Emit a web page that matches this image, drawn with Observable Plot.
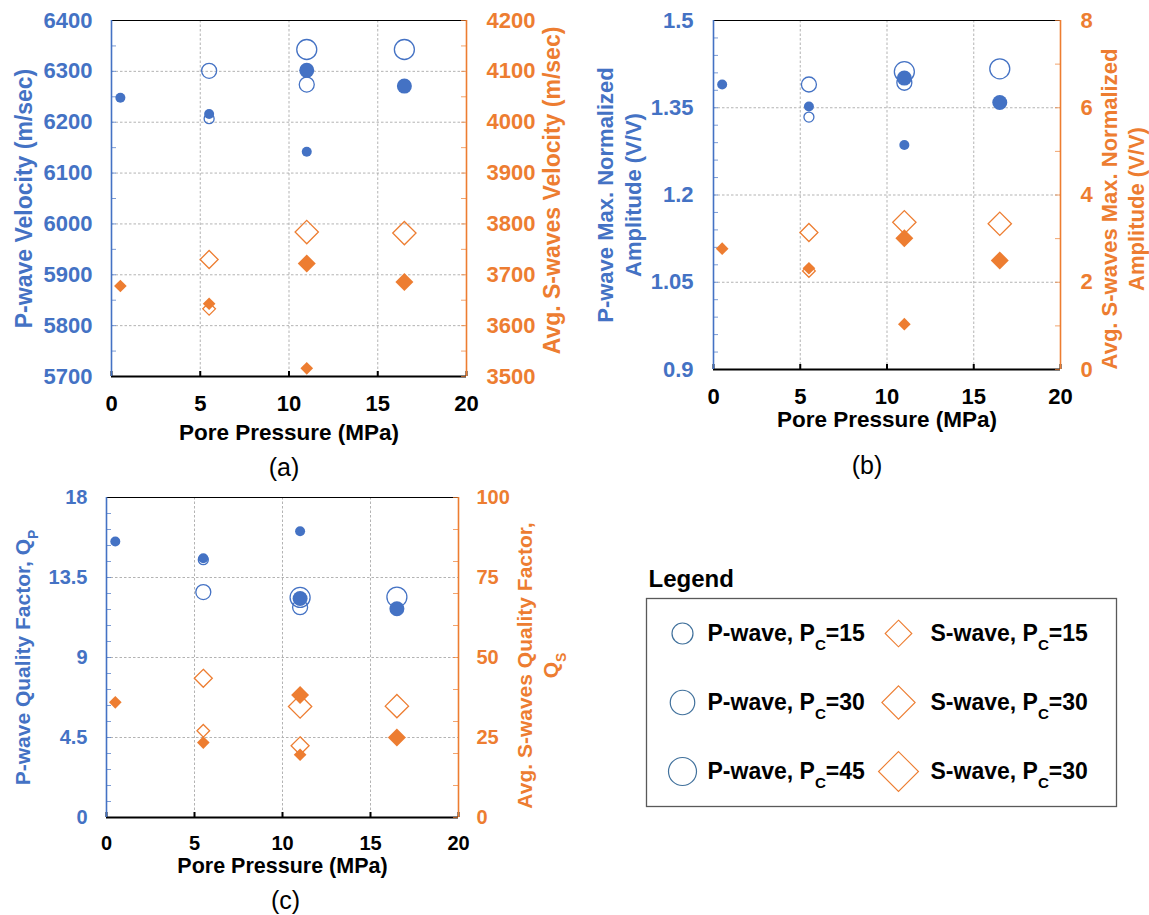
<!DOCTYPE html>
<html><head><meta charset="utf-8">
<script src="https://cdn.jsdelivr.net/npm/d3@7"></script>
<script src="https://cdn.jsdelivr.net/npm/@observablehq/plot@0.6"></script>
<style>
body{margin:0;background:#fff;}
#root{position:relative;width:1149px;height:915px;overflow:hidden;background:#fff;}
.layer{position:absolute;}
.layer svg{display:block;overflow:visible;}
</style></head><body><div id="root"></div>
<script>
const BLUE = "#4472C4", ORANGE = "#ED7D31";
const FONT = '"Liberation Sans", Arial, Helvetica, sans-serif';

// sample layout shared by all panels
const porePressure      = [0.5, 5.5, 5.5, 5.5, 11, 11, 11, 11, 16.5, 16.5];
const confiningPressure = [15, 15, 15, 30, 15, 30, 30, 45, 30, 45];
const isFilled          = [true, true, false, false, true, true, false, false, true, false];

// (a) velocities
const pVelocity = [6248, 6216, 6207, 6301, 6142, 6302, 6274, 6343, 6271, 6343];
const sVelocity = [3678, 3643, 3633, 3730, 3516, 3722, null, 3784, 3686, 3782];
// (b) max normalized amplitudes
const pAmplitude = [1.390, 1.352, 1.334, 1.390, 1.286, 1.401, 1.393, 1.412, 1.359, 1.417];
const sAmplitude = [2.77, 2.32, 2.26, 3.14, 1.04, 3.01, null, 3.375, 2.50, 3.34];
// (c) quality factors
const pQuality = [15.52, 14.58, 14.5, 12.68, 16.1, 12.32, 11.83, 12.38, 11.74, 12.4];
const sQuality = [36, 23.4, 27.1, 43.5, 19.6, 38.3, 22.4, 34.7, 25, 34.8];

// ticks
const xTicks = [0, 5, 10, 15, 20];
const aLeftTicks  = [5700, 5800, 5900, 6000, 6100, 6200, 6300, 6400];
const aRightTicks = [3500, 3600, 3700, 3800, 3900, 4000, 4100, 4200];
const bLeftTicks  = [0.9, 1.05, 1.2, 1.35, 1.5];
const bRightTicks = [0, 2, 4, 6, 8];
const cLeftTicks  = [0, 4.5, 9, 13.5, 18];
const cRightTicks = [0, 25, 50, 75, 100];

// legend
const legendPc = [15, 30, 45];
const legendP = ["P-wave, P_C=15", "P-wave, P_C=30", "P-wave, P_C=45"];
const legendS = ["S-wave, P_C=15", "S-wave, P_C=30", "S-wave, P_C=30"];

const root = document.getElementById("root");

function records(values) {
  return porePressure.map((x, i) => ({x, pc: confiningPressure[i], filled: isFilled[i], v: values[i]}))
    .filter(d => d.v !== null && d.v !== undefined);
}
function steps(domain, step) {
  const n = Math.round((domain[1] - domain[0]) / step);
  return d3.range(n + 1).map(i => domain[0] + i * step);
}
function subscripts(svg) {
  const ns = "http://www.w3.org/2000/svg";
  svg.querySelectorAll("text, tspan").forEach(el => {
    [...el.childNodes].forEach(node => {
      if (node.nodeType === 3 && node.nodeValue.includes("_")) {
        const parts = node.nodeValue.split(/_(\w)/);
        const frag = document.createDocumentFragment();
        parts.forEach((p, i) => {
          if (i % 2 === 0) { if (p) frag.appendChild(document.createTextNode(p)); }
          else {
            const t = document.createElementNS(ns, "tspan");
            t.setAttribute("baseline-shift", "sub");
            t.setAttribute("style", "font-size:0.66em");
            t.textContent = p;
            frag.appendChild(t);
          }
        });
        el.replaceChild(frag, node);
      }
    });
  });
}
function place(svg, left, top) {
  subscripts(svg);
  const div = document.createElement("div");
  div.className = "layer";
  div.style.left = left + "px";
  div.style.top = top + "px";
  div.appendChild(svg);
  root.appendChild(div);
}

const grid = {stroke: "#b3b3b3", strokeOpacity: 1, strokeDasharray: "2.5,2", strokeWidth: 1};

function panel(c) {
  const [mt, mr, mb, ml] = c.m;
  const fw = c.width - ml - mr, fh = c.height - mt - mb;
  const common = {
    width: c.width, height: c.height,
    marginTop: mt, marginRight: mr, marginBottom: mb, marginLeft: ml,
    style: {background: "transparent", fontFamily: FONT, overflow: "visible"}
  };
  const P = records(c.pVals), S = records(c.sVals);
  const left = Plot.plot({
    ...common,
    x: {domain: [0, 20]},
    y: {domain: c.yL},
    r: {type: "linear", domain: [15, 45], range: [5, 10]},
    marks: [
      Plot.gridY({ticks: c.ticksL, ...grid}),
      Plot.gridX({ticks: [5, 10, 15], ...grid}),
      Plot.tickY(steps(c.yL, c.minorL), {y: d => d, stroke: BLUE, strokeOpacity: 0.7, insetRight: fw - 5}),
      Plot.tickX(xTicks, {x: d => d, stroke: "#000", strokeWidth: 2, insetTop: fh - 5}),
      Plot.ruleY([c.yL[1]], {stroke: "#000", strokeWidth: 1.2}),
      Plot.ruleY([c.yL[0]], {stroke: "#000", strokeWidth: 1.8}),
      Plot.ruleX([0], {stroke: BLUE, strokeWidth: 1.6}),
      Plot.axisY({ticks: c.ticksL, anchor: "left", tickSize: 0, tickPadding: c.padL, tickFormat: d => String(d),
        fill: BLUE, fontSize: c.tickFont, fontWeight: "bold", label: null}),
      Plot.axisX({ticks: xTicks, anchor: "bottom", tickSize: 0, tickPadding: c.padB, tickFormat: d => String(d),
        fill: "#000", fontSize: c.tickFont, fontWeight: "bold", label: null}),
      Plot.dot(P.filter(d => !d.filled), {x: "x", y: "v", r: "pc", stroke: BLUE, strokeWidth: 1.3, fill: "none"}),
      Plot.dot(P.filter(d => d.filled), {x: "x", y: "v", r: "pc", fill: BLUE, stroke: "none"}),
      Plot.text([c.titleL], {text: d => d, frameAnchor: "left", dx: c.titleLdx, dy: c.titleLdy || 0, rotate: -90,
        textAnchor: "middle", lineAnchor: "middle", lineHeight: 1.27, fontSize: c.titleSize, fontWeight: "bold", fill: BLUE}),
      Plot.text(["Pore Pressure (MPa)"], {text: d => d, frameAnchor: "bottom", dy: c.xTitleDy,
        textAnchor: "middle", lineAnchor: "middle", fontSize: c.xTitleSize, fontWeight: "bold", fill: "#000"}),
      Plot.text([c.letter], {text: d => d, frameAnchor: "bottom", dx: c.letterDx, dy: c.letterDy,
        textAnchor: "middle", lineAnchor: "middle", fontSize: 25, fill: "#000"})
    ]
  });
  const right = Plot.plot({
    ...common,
    x: {domain: [0, 20], axis: null},
    y: {domain: c.yR},
    r: {type: "linear", domain: [15, 45], range: [5.7, 10.5]},
    marks: [
      Plot.tickY(steps(c.yR, c.minorR), {y: d => d, stroke: ORANGE, strokeOpacity: 0.7, insetLeft: fw - 5}),
      Plot.ruleX([20], {stroke: ORANGE, strokeWidth: 1.6}),
      Plot.axisY({ticks: c.ticksR, anchor: "right", tickSize: 0, tickPadding: c.padR, tickFormat: d => String(d),
        fill: ORANGE, fontSize: c.tickFont, fontWeight: "bold", label: null}),
      Plot.dot(S.filter(d => !d.filled), {x: "x", y: "v", r: "pc", symbol: "diamond2", stroke: ORANGE, strokeWidth: 1.3, fill: "none"}),
      Plot.dot(S.filter(d => d.filled), {x: "x", y: "v", r: "pc", symbol: "diamond2", fill: ORANGE, stroke: "none"}),
      Plot.text([c.titleR], {text: d => d, frameAnchor: "right", dx: c.titleRdx, dy: c.titleRdy || 0, rotate: -90,
        textAnchor: "middle", lineAnchor: "middle", lineHeight: 1.25, fontSize: c.titleSize, fontWeight: "bold", fill: ORANGE})
    ]
  });
  place(left, c.left, c.top);
  place(right, c.left, c.top);
}

panel({left: 0, top: 0, width: 580, height: 490, m: [20, 114, 114, 111],
  pVals: pVelocity, sVals: sVelocity, yL: [5700, 6400], yR: [3500, 4200],
  ticksL: aLeftTicks, ticksR: aRightTicks, minorL: 50, minorR: 50,
  tickFont: 22, padL: 19, padR: 20, padB: 19,
  titleL: "P-wave Velocity (m/sec)", titleLdx: -89,
  titleR: "Avg. S-waves Velocity (m/sec)", titleRdx: 84, titleRdy: -8, titleSize: 23,
  xTitleSize: 22.5, xTitleDy: 56, letter: "(a)", letterDx: -5, letterDy: 91});

panel({left: 575, top: 0, width: 574, height: 490, m: [20, 89, 121, 138],
  pVals: pAmplitude, sVals: sAmplitude, yL: [0.9, 1.5], yR: [0, 8],
  ticksL: bLeftTicks, ticksR: bRightTicks, minorL: 0.03, minorR: 1,
  tickFont: 22, padL: 20, padR: 20, padB: 19,
  titleL: "P-wave Max. Normalized\nAmplitude (V/V)", titleLdx: -95,
  titleR: "Avg. S-waves Max. Normalized\nAmplitude (V/V)", titleRdx: 61, titleRdy: 14, titleSize: 22,
  xTitleSize: 22.5, xTitleDy: 50, letter: "(b)", letterDx: -20, letterDy: 96});

panel({left: 0, top: 470, width: 580, height: 445, m: [27, 122, 98, 106],
  pVals: pQuality, sVals: sQuality, yL: [0, 18], yR: [0, 100],
  ticksL: cLeftTicks, ticksR: cRightTicks, minorL: 0.9, minorR: 10,
  tickFont: 20, padL: 19, padR: 18, padB: 18,
  titleL: "P-wave Quality Factor, Q_P", titleLdx: -85,
  titleR: "Avg. S-waves Quality Factor,\nQ_S", titleRdx: 78, titleRdy: 8, titleSize: 21,
  xTitleSize: 21.5, xTitleDy: 49, letter: "(c)", letterDx: 3, letterDy: 83});

// legend
const legendRows = legendPc.map((pc, i) => ({pc, row: i, p: legendP[i], s: legendS[i]}));
const legCommon = {
  width: 529, height: 280, marginTop: 48, marginRight: 33, marginBottom: 24, marginLeft: 26,
  x: {type: "point", domain: ["P", "S"], range: [62, 278], padding: 0, axis: null},
  y: {type: "point", domain: [0, 1, 2], range: [82, 221], padding: 0, axis: null},
  style: {background: "transparent", fontFamily: FONT, overflow: "visible"}
};
const legA = Plot.plot({
  ...legCommon,
  r: {type: "linear", domain: [15, 45], range: [10.5, 14]},
  marks: [
    Plot.frame({stroke: "#595959", strokeWidth: 1.3}),
    Plot.text(["Legend"], {text: d => d, frameAnchor: "top-left", dx: 2, dy: -19, textAnchor: "start", lineAnchor: "middle",
      fontSize: 24, fontWeight: "bold", fill: "#000"}),
    Plot.dot(legendRows, {x: () => "P", y: "row", r: "pc", stroke: "#41719C", strokeWidth: 1.2, fill: "none"}),
    Plot.text(legendRows, {x: () => "P", y: "row", text: "p", dx: 25, textAnchor: "start", lineAnchor: "middle",
      fontSize: 23, fontWeight: "bold", fill: "#000"})
  ]
});
const legB = Plot.plot({
  ...legCommon,
  r: {type: "linear", domain: [15, 45], range: [12, 18]},
  marks: [
    Plot.dot(legendRows, {x: () => "S", y: "row", r: "pc", symbol: "diamond2", stroke: ORANGE, strokeWidth: 1.1, fill: "none"}),
    Plot.text(legendRows, {x: () => "S", y: "row", text: "s", dx: 32, textAnchor: "start", lineAnchor: "middle",
      fontSize: 23, fontWeight: "bold", fill: "#000"})
  ]
});
place(legA, 620, 550);
place(legB, 620, 550);
</script></body></html>
